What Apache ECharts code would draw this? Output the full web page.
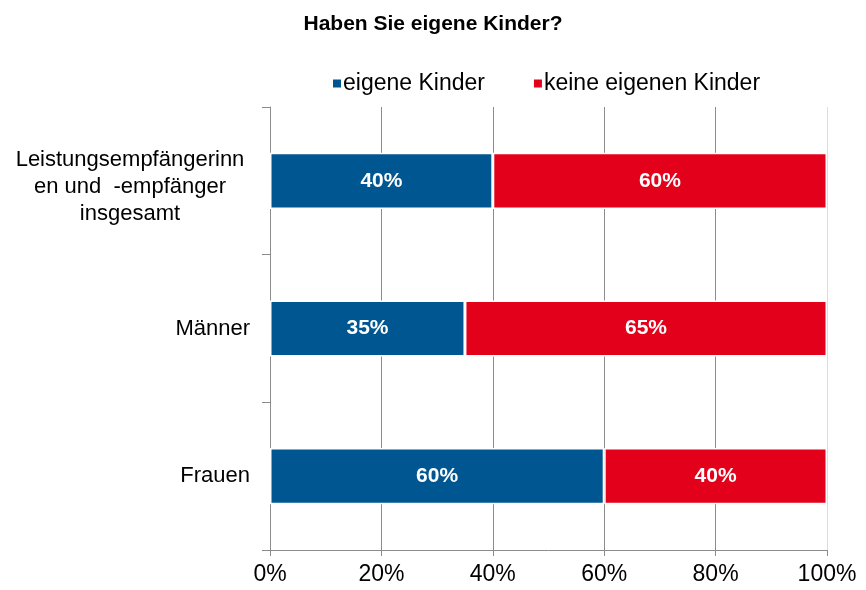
<!DOCTYPE html>
<html style="height: 100%">
<head>
    <meta charset="utf-8">
</head>
<body style="height: 100%; margin: 0">
<div id="container" style="width: 866px; height: 590px"></div>
<script type="text/javascript" src="https://cdn.jsdelivr.net/npm/echarts@6/dist/echarts.min.js"></script>
<script type="text/javascript">
    var dom = document.getElementById("container");
    var myChart = echarts.init(dom);

    // Kategorien (oben nach unten)
    var categories = ['Leistungsempfängerinnen und -empfänger insgesamt', 'Männer', 'Frauen'];
    // Anteile in %
    var eigeneKinder = [40, 35, 60];
    var keineKinder = [60, 65, 40];
    var xTicks = [0, 20, 40, 60, 80, 100];

    var font = 'Liberation Sans, Arial, sans-serif';

    // erster Eintrag etwas tiefer setzen, wie im Original
    var yData = categories.map(function (c, i) {
        return i === 0 ? { value: c, textStyle: { padding: [13, 0, 0, 0] } } : c;
    });

    var option = {
        textStyle: { fontFamily: font },
        title: {
            text: 'Haben Sie eigene Kinder?',
            left: 'center',
            top: 9,
            textStyle: { fontSize: 21, fontWeight: 'bold', color: '#000', fontFamily: font }
        },
        legend: {
            data: ['eigene Kinder', 'keine eigenen Kinder'],
            top: 67,
            left: 326,
            itemWidth: 10,
            itemHeight: 10,
            itemGap: 47,
            icon: 'rect',
            textStyle: { fontSize: 23, color: '#000', fontFamily: font, padding: [0, 0, 0, -4] }
        },
        grid: {
            left: 270,
            right: 39,
            top: 107,
            bottom: 40,
            containLabel: false
        },
        xAxis: {
            type: 'value',
            min: 0,
            max: 100,
            interval: 20,
            axisLine: { show: true, lineStyle: { color: '#8c8c8c', width: 1 } },
            axisTick: { show: true, length: 6, lineStyle: { color: '#8c8c8c' } },
            axisLabel: {
                fontSize: 23,
                color: '#000',
                margin: 13,
                fontFamily: font,
                formatter: function (v) { return xTicks.indexOf(v) >= 0 ? v + '%' : ''; }
            },
            splitLine: {
                show: true,
                lineStyle: { color: ['#8c8c8c', '#8c8c8c', '#8c8c8c', '#8c8c8c', '#8c8c8c', '#dddddd'], width: 1 }
            }
        },
        yAxis: {
            type: 'category',
            inverse: true,
            data: yData,
            axisLine: { show: true, lineStyle: { color: '#8c8c8c', width: 1 } },
            axisTick: { show: true, length: 8, lineStyle: { color: '#8c8c8c' } },
            axisLabel: {
                fontSize: 22,
                color: '#000',
                margin: 20,
                fontFamily: font,
                formatter: function (v, i) {
                    if (i === 0) {
                        return '{c|Leistungsempfängerinn}\n{c|en und  -empfänger}\n{c|insgesamt}';
                    }
                    return v;
                },
                rich: {
                    c: { width: 240, align: 'center', fontSize: 22, lineHeight: 27, color: '#000', fontFamily: font }
                }
            }
        },
        series: [{
            name: 'eigene Kinder',
            type: 'bar',
            stack: 'total',
            barWidth: '38%',
            data: eigeneKinder,
            itemStyle: { color: '#005691', borderColor: '#fff', borderWidth: 1.5 },
            label: {
                show: true,
                position: 'inside',
                color: '#fff',
                fontSize: 21,
                fontWeight: 'bold',
                fontFamily: font,
                formatter: '{c}%'
            }
        }, {
            name: 'keine eigenen Kinder',
            type: 'bar',
            stack: 'total',
            barWidth: '38%',
            data: keineKinder,
            itemStyle: { color: '#E3001B', borderColor: '#fff', borderWidth: 1.5 },
            label: {
                show: true,
                position: 'inside',
                color: '#fff',
                fontSize: 21,
                fontWeight: 'bold',
                fontFamily: font,
                formatter: '{c}%'
            }
        }]
    };
    myChart.setOption(option, true);
</script>
</body>
</html>
